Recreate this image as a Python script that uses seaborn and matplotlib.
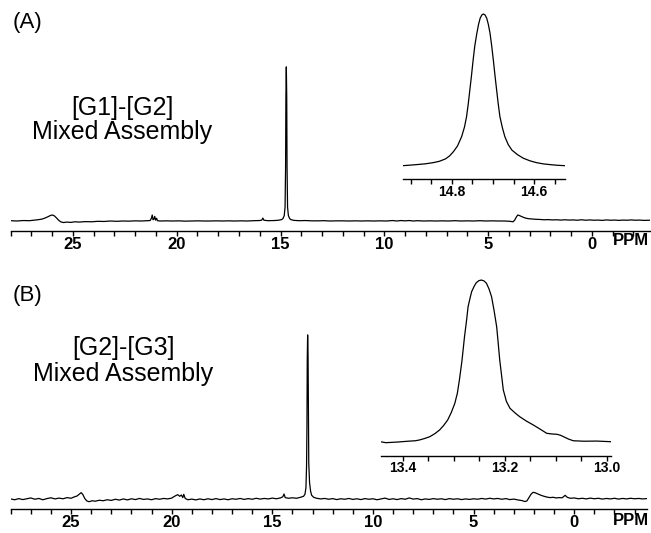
import numpy as np
import matplotlib
matplotlib.use('Agg')
import matplotlib.pyplot as plt
from matplotlib.ticker import MultipleLocator, FormatStrFormatter
import seaborn as sns

# Spectrum A, full range: (ppm, relative intensity), main peak = 100
spec_a = [
    (28.0, 0.2), (27.7, 0.0), (27.4, 0.3), (27.1, 0.2), (26.9, 0.5), (26.7, 0.8), (26.5, 1.2),
    (26.35, 1.9), (26.2, 2.8), (26.08, 3.6), (25.98, 3.9), (25.88, 3.2), (25.78, 1.8), (25.68, 0.4),
    (25.58, -0.6), (25.45, -1.0), (25.3, -0.7), (25.1, -0.9), (24.9, -0.5), (24.7, -0.7), (24.4, -0.4),
    (24.1, -0.5), (23.8, -0.2), (23.5, -0.3), (23.2, 0.0), (22.9, -0.2), (22.6, 0.0), (22.3, -0.1),
    (22.0, 0.1), (21.7, 0.0), (21.4, 0.2), (21.28, 0.3), (21.22, 1.8), (21.18, 3.9), (21.14, 0.8),
    (21.1, 1.2), (21.06, 3.0), (21.02, 0.6), (20.97, 1.8), (20.93, 0.2), (20.8, 0.0), (20.5, 0.1),
    (20.2, 0.0), (19.9, 0.1), (19.6, -0.1), (19.3, 0.0), (19.0, 0.1), (18.7, 0.0), (18.4, 0.0),
    (18.1, 0.1), (17.8, 0.0), (17.5, 0.1), (17.2, 0.0), (16.9, 0.1), (16.6, 0.0), (16.3, 0.2),
    (16.0, 0.3), (15.9, 0.6), (15.85, 1.9), (15.8, 0.5), (15.6, 0.2), (15.3, 0.3), (15.1, 0.5),
    (14.95, 0.9), (14.88, 1.6), (14.82, 3.5), (14.78, 9.0), (14.755, 35), (14.74, 80), (14.72, 100),
    (14.70, 80), (14.685, 35), (14.66, 9.0), (14.62, 3.5), (14.56, 1.6), (14.5, 0.9), (14.35, 0.4),
    (14.1, 0.2), (13.8, 0.3), (13.5, 0.1), (13.2, 0.1), (12.9, 0.2), (12.6, 0.0), (12.3, 0.1),
    (12.0, 0.1), (11.7, 0.0), (11.4, 0.1), (11.1, 0.0), (10.8, 0.1), (10.5, 0.0), (10.2, 0.1),
    (9.9, 0.0), (9.6, 0.3), (9.4, 0.0), (9.2, 0.3), (9.0, 0.1), (8.8, 0.3), (8.6, 0.0), (8.4, 0.2),
    (8.1, 0.0), (7.8, 0.1), (7.5, 0.0), (7.2, 0.1), (6.9, 0.0), (6.6, 0.2), (6.3, 0.0), (6.0, 0.1),
    (5.7, 0.0), (5.4, 0.2), (5.1, 0.0), (4.8, 0.1), (4.5, 0.0), (4.2, 0.0), (3.95, -0.2), (3.8, -0.5),
    (3.72, 0.5), (3.65, 2.3), (3.57, 3.9), (3.5, 3.6), (3.4, 3.0), (3.3, 2.4), (3.2, 1.9), (3.05, 1.5),
    (2.9, 1.3), (2.7, 1.1), (2.5, 1.0), (2.3, 0.8), (2.1, 0.9), (1.9, 0.7), (1.7, 0.8), (1.5, 0.6),
    (1.3, 0.8), (1.1, 0.6), (0.9, 0.7), (0.7, 0.5), (0.5, 0.8), (0.3, 0.5), (0.1, 0.7), (-0.1, 0.5),
    (-0.3, 0.6), (-0.5, 0.4), (-0.7, 0.7), (-0.9, 0.5), (-1.1, 0.6), (-1.3, 0.4), (-1.5, 0.6),
    (-1.7, 0.5), (-1.9, 0.7), (-2.1, 0.5), (-2.3, 0.6), (-2.5, 0.4), (-2.8, 0.5),
]

# Spectrum A, expanded around the main peak
inset_a = [
    (14.919, 0.0), (14.89, 0.6), (14.865, 1.2), (14.845, 2.0), (14.830, 2.9), (14.815, 4.5),
    (14.805, 6.5), (14.796, 9.2), (14.786, 13.0), (14.776, 19.1), (14.769, 25.5), (14.764, 32.3),
    (14.760, 40.5), (14.756, 49.9), (14.752, 59.5), (14.748, 69.7), (14.744, 79.0), (14.739, 87.3),
    (14.735, 93.0), (14.731, 97.2), (14.727, 99.3), (14.723, 100.0), (14.719, 99.3), (14.715, 97.2),
    (14.711, 93.0), (14.707, 87.3), (14.703, 79.0), (14.699, 69.7), (14.695, 59.5), (14.691, 49.9),
    (14.687, 40.5), (14.683, 32.3), (14.677, 25.0), (14.671, 19.1), (14.663, 14.0), (14.654, 10.3),
    (14.640, 7.2), (14.626, 4.9), (14.610, 3.2), (14.594, 2.0), (14.578, 1.2), (14.561, 0.7),
    (14.545, 0.3), (14.525, 0.0),
]

# Spectrum B, full range
spec_b = [
    (28.0, 0.2), (27.8, -0.3), (27.6, 0.4), (27.4, -0.2), (27.2, 0.3), (27.0, 0.8), (26.8, 0.0),
    (26.6, 0.5), (26.4, -0.3), (26.2, 0.4), (26.0, 0.9), (25.8, 0.2), (25.6, 0.7), (25.4, 0.3),
    (25.2, 1.0), (25.0, 0.6), (24.85, 1.4), (24.7, 2.0), (24.6, 3.0), (24.5, 4.0), (24.42, 3.0),
    (24.32, 0.5), (24.22, -1.0), (24.1, -1.5), (23.95, -0.9), (23.8, -1.2), (23.6, -0.6), (23.4, -0.9),
    (23.2, -0.3), (23.0, -0.7), (22.8, 0.0), (22.6, -0.5), (22.4, 0.2), (22.2, -0.4), (22.0, 0.3),
    (21.8, -0.2), (21.6, 0.5), (21.4, -0.1), (21.2, 0.2), (21.0, -0.3), (20.8, 0.4), (20.6, 0.0),
    (20.4, 0.5), (20.2, 0.2), (20.0, 0.7), (19.9, 1.5), (19.8, 2.2), (19.7, 2.8), (19.6, 1.8),
    (19.52, 2.6), (19.45, 1.0), (19.4, 3.0), (19.33, 0.5), (19.2, -0.3), (19.0, 0.1), (18.8, -0.4),
    (18.6, 0.2), (18.4, -0.3), (18.2, 0.3), (18.0, -0.2), (17.8, 0.4), (17.6, -0.2), (17.4, 0.2),
    (17.2, -0.3), (17.0, 0.3), (16.8, 0.0), (16.6, 0.5), (16.4, -0.1), (16.2, 0.4), (16.0, 0.0),
    (15.8, 0.6), (15.6, 0.1), (15.4, 0.5), (15.2, 0.2), (15.0, 0.7), (14.8, 0.3), (14.6, 0.8),
    (14.48, 1.5), (14.42, 3.2), (14.36, 1.0), (14.2, 0.6), (14.0, 0.9), (13.8, 0.6), (13.6, 1.2),
    (13.45, 1.8), (13.38, 3.0), (13.33, 7.0), (13.3, 20), (13.28, 45), (13.265, 85), (13.246, 100),
    (13.225, 88), (13.21, 55), (13.19, 22), (13.15, 10), (13.1, 5.0), (13.05, 2.5), (12.95, 1.2),
    (12.8, 0.6), (12.6, 0.2), (12.4, 0.5), (12.2, 0.0), (12.0, 0.4), (11.8, -0.2), (11.6, 0.3),
    (11.4, 0.0), (11.2, 0.5), (11.0, -0.1), (10.8, 0.3), (10.6, -0.2), (10.4, 0.4), (10.2, 0.0),
    (10.0, 0.3), (9.8, -0.3), (9.6, 0.2), (9.4, 0.7), (9.2, -0.1), (9.0, 0.3), (8.8, -0.2), (8.6, 0.4),
    (8.4, 0.0), (8.2, 0.8), (8.0, 0.1), (7.8, 0.4), (7.6, -0.3), (7.4, 0.2), (7.2, -0.1), (7.0, 0.4),
    (6.8, 0.0), (6.6, 0.3), (6.4, -0.2), (6.2, 0.4), (6.0, 0.0), (5.8, 0.3), (5.6, -0.2), (5.4, 0.2),
    (5.2, -0.1), (5.0, 0.3), (4.8, 0.0), (4.6, 0.5), (4.4, 0.1), (4.2, 0.6), (4.0, 0.2), (3.8, 0.5),
    (3.6, 0.0), (3.4, 0.4), (3.2, -0.2), (3.0, 0.1), (2.8, -0.4), (2.6, -0.8), (2.45, -1.4),
    (2.35, -1.0), (2.25, 1.0), (2.15, 3.0), (2.05, 4.2), (1.95, 4.0), (1.8, 3.2), (1.65, 2.4),
    (1.5, 1.8), (1.35, 1.3), (1.2, 1.0), (1.05, 1.2), (0.9, 0.8), (0.75, 1.0), (0.6, 0.9), (0.45, 2.4),
    (0.35, 1.2), (0.2, 0.6), (0.0, 0.8), (-0.2, 0.3), (-0.4, 0.6), (-0.6, 0.2), (-0.8, 0.7),
    (-1.0, 0.3), (-1.2, 0.6), (-1.4, 0.1), (-1.6, 0.5), (-1.8, 0.2), (-2.0, 0.6), (-2.2, 0.1),
    (-2.4, 0.5), (-2.6, 0.2), (-2.8, 0.6), (-3.0, 0.3), (-3.2, 0.5), (-3.4, 0.2), (-3.6, 0.4),
]

# Spectrum B, expanded around the main peak
inset_b = [
    (13.444, 0.0), (13.433, -0.6), (13.41, -0.2), (13.39, 0.3), (13.375, 0.6), (13.367, 1.1),
    (13.357, 2.0), (13.347, 3.1), (13.337, 5.0), (13.328, 7.2), (13.320, 10.0), (13.312, 13.4),
    (13.305, 18.0), (13.298, 23.7), (13.293, 30.0), (13.289, 38.2), (13.284, 50.0), (13.279, 64.9),
    (13.275, 75.0), (13.272, 83.5), (13.268, 89.0), (13.265, 92.8), (13.260, 96.2), (13.256, 98.3),
    (13.251, 99.6), (13.246, 100.0), (13.241, 99.5), (13.236, 98.0), (13.231, 94.5), (13.226, 89.7),
    (13.221, 81.0), (13.216, 71.1), (13.213, 61.0), (13.210, 50.5), (13.206, 40.0), (13.203, 32.0),
    (13.197, 25.0), (13.190, 20.7), (13.180, 17.8), (13.171, 15.5), (13.158, 12.8), (13.144, 10.3),
    (13.131, 7.8), (13.118, 5.2), (13.108, 4.8), (13.098, 4.6), (13.091, 4.0), (13.085, 3.1),
    (13.075, 1.6), (13.066, 0.6), (13.045, 0.3), (13.020, 0.4), (12.992, 0.0),
]

panel_tags = ['(A)', '(B)']
sample_names = ['[G1]-[G2]', '[G2]-[G3]']
sample_kind = 'Mixed Assembly'
axis_unit = 'PPM'

sns.set_style('white')
plt.rcParams['font.family'] = ['Liberation Sans', 'DejaVu Sans']
plt.rcParams['text.color'] = 'black'
plt.rcParams['xtick.color'] = 'black'

fig = plt.figure(figsize=(6.51, 5.33), dpi=100)


def draw(ax, data, xlim, ylim, major, minor, fmt, size):
    arr = np.array(data)
    sns.lineplot(x=arr[:, 0], y=arr[:, 1], ax=ax, color='black', lw=0.9,
                 sort=False, estimator=None)
    ax.set_xlim(*xlim)
    ax.set_ylim(*ylim)
    for s in ['left', 'top', 'right']:
        ax.spines[s].set_visible(False)
    ax.spines['bottom'].set_color('black')
    ax.spines['bottom'].set_linewidth(1.0)
    ax.set_yticks([])
    ax.xaxis.set_major_locator(MultipleLocator(major))
    ax.xaxis.set_minor_locator(MultipleLocator(minor))
    ax.xaxis.set_major_formatter(FormatStrFormatter(fmt))
    ax.tick_params(axis='x', which='both', bottom=True, direction='out', length=3.5,
                   width=1.0, color='black', labelcolor='black', pad=0.5, labelsize=size)
    for lab in ax.get_xticklabels():
        lab.set_fontweight('bold')
    ax.set_xlabel('')
    ax.set_ylabel('')
    ax.patch.set_alpha(0)


# panel A
ax_a = fig.add_axes([0.0164, 0.5657, 0.982, 0.3218])
draw(ax_a, spec_a, (28, -2.8), (-6.8, 104.5), 5, 1, '%d', 12)
ax_ai = fig.add_axes([0.6186, 0.6636, 0.2493, 0.3176])
draw(ax_ai, inset_a, (14.919, 14.525), (-8.97, 102.6), 0.2, 0.05, '%.1f', 10)

# panel B
ax_b = fig.add_axes([0.0164, 0.0445, 0.977, 0.3364])
draw(ax_b, spec_b, (28, -3.6), (-6.1, 103.0), 5, 1, '%d', 12)
ax_bi = fig.add_axes([0.5853, 0.1450, 0.3533, 0.339])
draw(ax_bi, inset_b, (13.4425, 12.992), (-8.66, 103.1), 0.2, 0.05, '%.1f', 10)

# labels
fig.text(0.042, 0.957, panel_tags[0], ha='center', va='center', fontsize=16)
fig.text(0.042, 0.445, panel_tags[1], ha='center', va='center', fontsize=16)
fig.text(0.188, 0.797, sample_names[0], ha='center', va='center', fontsize=18)
fig.text(0.188, 0.752, sample_kind, ha='center', va='center', fontsize=18)
fig.text(0.189, 0.347, sample_names[1], ha='center', va='center', fontsize=18)
fig.text(0.189, 0.298, sample_kind, ha='center', va='center', fontsize=18)
fig.text(0.997, 0.548, axis_unit, ha='right', va='center', fontsize=12, fontweight='bold')
fig.text(0.997, 0.024, axis_unit, ha='right', va='center', fontsize=12, fontweight='bold')

fig.savefig('out.png', dpi=100)
